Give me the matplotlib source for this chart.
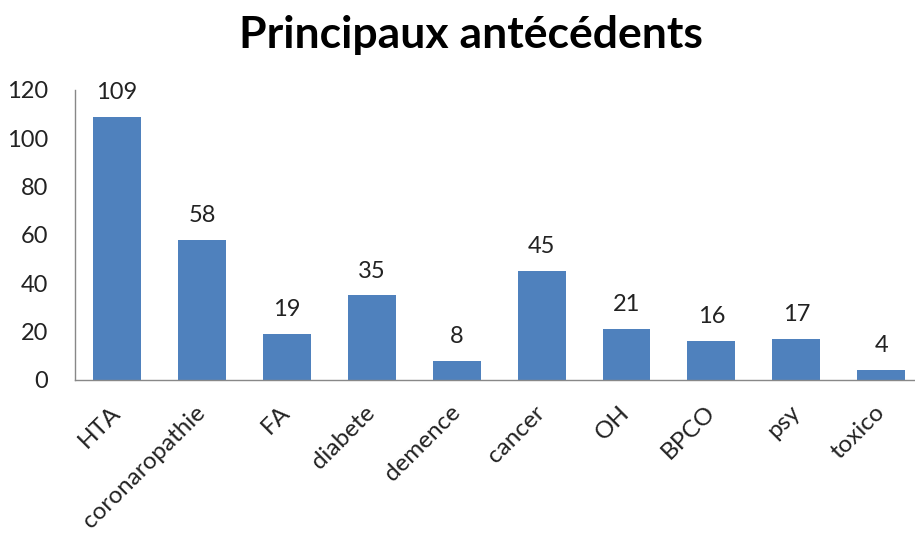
import matplotlib
matplotlib.use("Agg")
import matplotlib.pyplot as plt

categories = ["HTA", "coronaropathie", "FA", "diabete", "demence", "cancer", "OH", "BPCO", "psy", "toxico"]
values = [109, 58, 19, 35, 8, 45, 21, 16, 17, 4]
yticks = [0, 20, 40, 60, 80, 100, 120]

plt.rcParams['font.family'] = ['Lato', 'DejaVu Sans']

fig = plt.figure(figsize=(9.15, 5.34), dpi=100)
ax = fig.add_axes([0.0815, 0.2884, 0.928, 0.5431])
x = list(range(len(categories)))
bars = ax.bar(x, values, width=0.565, color="#4F81BD")
ax.set_xlim(-0.5, len(categories) - 0.5)
ax.set_ylim(0, 120)
ax.set_yticks(yticks)
ax.set_yticklabels([str(t) for t in yticks], fontsize=17, color="#222222")
ax.set_xticks(x)
ax.set_xticklabels(categories, rotation=45, ha="right", va="center", rotation_mode="anchor", fontsize=17.5, color="#222222")
ax.tick_params(axis="x", length=0, pad=21)
ax.tick_params(axis="y", length=0, pad=19)
for s in ["top", "right"]:
    ax.spines[s].set_visible(False)
for s in ["left", "bottom"]:
    ax.spines[s].set_color("#888888")
    ax.spines[s].set_linewidth(1)
for b, v in zip(bars, values):
    ax.annotate(str(v), (b.get_x() + b.get_width() / 2, v), xytext=(0, 10), textcoords="offset points",
                ha="center", va="bottom", fontsize=17, color="#222222")
fig.text(0.515, 0.935, "Principaux antécédents", ha="center", va="center", fontsize=32, fontweight="bold", color="black")
fig.savefig("out.png", dpi=100, facecolor="white")
